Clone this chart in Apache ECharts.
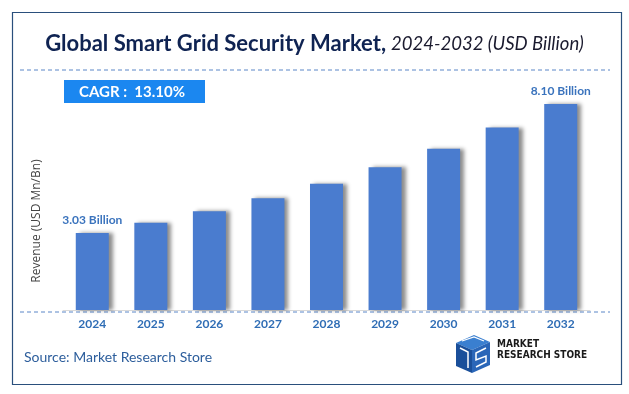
<!DOCTYPE html>
<html>
<head>
<meta charset="utf-8">
<script src="https://cdn.jsdelivr.net/npm/echarts@6/dist/echarts.min.js"></script>
<style>html,body{margin:0;padding:0;background:#fff}#c{width:629px;height:394px}</style>
</head>
<body>
<div id="c"></div>
<script>
var years = ['2024','2025','2026','2027','2028','2029','2030','2031','2032'];
var revenue = [3.03, 3.43, 3.88, 4.39, 4.96, 5.61, 6.34, 7.17, 8.10];
var labelText = {0: '3.03 Billion', 8: '8.10 Billion'};

var chart = echarts.init(document.getElementById('c'), null, {renderer: 'canvas'});
var FONT = 'Lato, "Open Sans", sans-serif';
chart.setOption({
  animation: false,
  backgroundColor: '#fff',
  title: {
    left: 'center', top: 28,
    text: '{b|Global Smart Grid Security Market,} {i|2024-2032 (USD Billion)}',
    textStyle: {
      rich: {
        b: {fontFamily: FONT, fontWeight: 'bold', fontSize: 22, color: '#0f2352'},
        i: {fontFamily: FONT, fontStyle: 'italic', fontWeight: 'normal', fontSize: 18.5, color: '#1a1a2e'}
      }
    }
  },
  grid: {left: 63, right: 39, top: 81, bottom: 84, containLabel: false},
  xAxis: {
    type: 'category', data: years,
    axisLine: {show: true, lineStyle: {color: '#d9d9d9', width: 1}},
    axisTick: {show: false},
    axisLabel: {color: '#2f6db5', fontWeight: 'bold', fontSize: 12, fontFamily: FONT, margin: 8}
  },
  yAxis: {
    type: 'value', min: 0, max: 9,
    axisLine: {show: false}, axisTick: {show: false}, axisLabel: {show: false},
    splitLine: {show: false}
  },
  series: [{
    type: 'bar', data: revenue, barWidth: 33,
    itemStyle: {color: '#4a7ccf', shadowColor: 'rgba(0,0,0,0.45)', shadowBlur: 4, shadowOffsetX: 4, shadowOffsetY: 0},
    label: {
      show: true, position: 'top', distance: 7,
      color: '#3a73bd', fontWeight: 'bold', fontSize: 12, fontFamily: FONT,
      formatter: function (p) { return labelText[p.dataIndex] || ''; }
    }
  }],
  graphic: [
    {type: 'rect', left: 10, top: 10, shape: {width: 609, height: 372}, style: {fill: 'none', stroke: '#2a4f7c', lineWidth: 1.2}, silent: true},
    {type: 'line', shape: {x1: 20, y1: 70, x2: 610, y2: 70}, style: {stroke: '#5b86c7', lineWidth: 1, lineDash: [4, 3]}},
    {type: 'line', shape: {x1: 20, y1: 312, x2: 610, y2: 312}, style: {stroke: '#5b86c7', lineWidth: 1, lineDash: [4, 3]}},
    {type: 'rect', shape: {x: 64, y: 80, width: 141, height: 23}, style: {fill: '#1b87f0'}},
    {type: 'text', x: 132, y: 92, style: {text: 'CAGR :  13.10%', fill: '#fff', font: 'bold 15px ' + FONT, textAlign: 'center', textVerticalAlign: 'middle'}},
    {type: 'text', x: 37, y: 221, rotation: Math.PI / 2, style: {text: 'Revenue (USD Mn/Bn)', fill: '#444', font: '12px "Open Sans", sans-serif', textAlign: 'center', textVerticalAlign: 'middle'}},
    {type: 'text', x: 24, y: 357, style: {text: 'Source: Market Research Store', fill: '#2d5e9c', font: '14px ' + FONT, textVerticalAlign: 'middle'}},
    // logo icon
    {type: 'polygon', shape: {points: [[456,343],[474,335],[490,342],[472,350]]}, style: {fill: '#3a7fd0'}},
    {type: 'polygon', shape: {points: [[456,343],[472,350],[472,373],[456,366]]}, style: {fill: '#1a4f9a'}},
    {type: 'polygon', shape: {points: [[472,350],[490,342],[490,365],[472,373]]}, style: {fill: '#2a66b8'}},
    {type: 'polyline', shape: {points: [[460,348],[468,352],[468,368]]}, style: {stroke: '#ffffff', lineWidth: 1.5, fill: 'none'}},
    {type: 'polyline', shape: {points: [[486,348],[476,353],[476,360],[486,356],[486,362],[476,367]]}, style: {stroke: '#ffffff', lineWidth: 1.5, fill: 'none'}},
    {type: 'polyline', shape: {points: [[462,341],[474,337],[484,341]]}, style: {stroke: '#ffffff', lineWidth: 1.2, fill: 'none'}},
    {type: 'text', x: 497, y: 344, style: {text: 'MARKET', fill: '#1a1a1a', font: 'bold 10px "DejaVu Sans Condensed", "Liberation Sans Narrow", sans-serif', textVerticalAlign: 'middle'}},
    {type: 'text', x: 497, y: 355, style: {text: 'RESEARCH STORE', fill: '#1a1a1a', font: 'bold 10px "DejaVu Sans Condensed", "Liberation Sans Narrow", sans-serif', textVerticalAlign: 'middle'}}
  ]
});
</script>
</body>
</html>
